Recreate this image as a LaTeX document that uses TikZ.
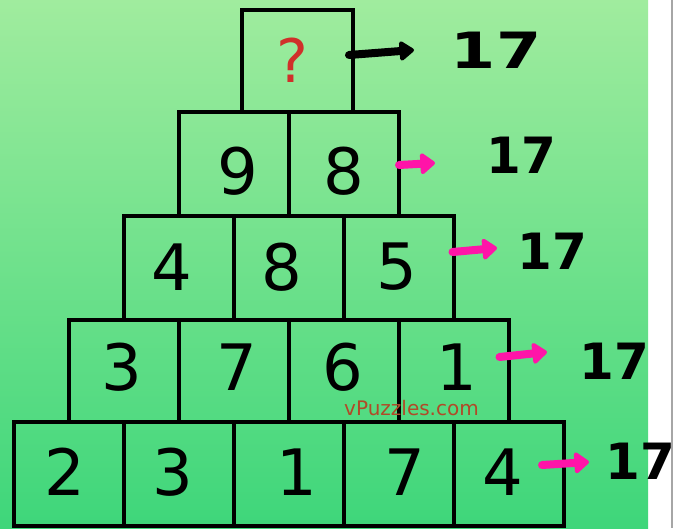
\documentclass[tikz,border=0pt]{standalone}
\usepackage{fontspec}
\setmainfont{DejaVu Sans}
\usetikzlibrary{arrows.meta,calc}
\definecolor{bgtop}{HTML}{A0EC9E}
\definecolor{bgbot}{HTML}{3ED67A}
\definecolor{qred}{HTML}{D0302A}
\definecolor{pinkarrow}{HTML}{FF14A8}
\definecolor{wmark}{HTML}{B04A28}
\tikzset{
  cell/.style={draw=black, line width=4pt, minimum width=110pt, minimum height=103pt, inner sep=0pt},
  digit/.style={inner sep=0pt, font=\fontsize{64}{64}\selectfont},
  hand/.style={inner sep=0pt, font=\fontsize{50}{50}\selectfont\bfseries},
  pinkarr/.style={draw=pinkarrow, line width=8pt, line cap=round, -{Triangle[length=16pt,width=24pt,round]}, pinkarrow},
  blackarr/.style={draw=black, line width=8pt, line cap=round, -{Triangle[length=16pt,width=22pt,round]}, black}
}
\begin{document}
\begin{tikzpicture}[x=1pt,y=-1pt]
\useasboundingbox (0,0) rectangle (676,528);
\fill[white] (0,0) rectangle (676,528);
\shade[top color=bgtop,bottom color=bgbot] (0,0) rectangle (648,528);
\draw[gray!70, line width=1.2pt] (672,0) -- (672,528);

% boxes
\node[cell, minimum width=111pt, minimum height=102pt] (top) at (297.5,61) {};
\node[cell, minimum height=104pt] (r2a) at (234,164) {};
\node[cell, minimum height=104pt] (r2b) at (344,164) {};
\node[cell, minimum height=104pt] (r3a) at (179,268) {};
\node[cell, minimum height=104pt] (r3b) at (289,268) {};
\node[cell, minimum height=104pt] (r3c) at (398.5,268) {};
\node[cell, minimum height=102pt] (r4a) at (124,371) {};
\node[cell, minimum height=102pt] (r4b) at (234,371) {};
\node[cell, minimum height=102pt] (r4c) at (344,371) {};
\node[cell, minimum height=102pt] (r4d) at (453.5,371) {};
\node[cell, minimum height=104pt] (r5a) at (69,474) {};
\node[cell, minimum height=104pt] (r5b) at (179,474) {};
\node[cell, minimum height=104pt] (r5c) at (289,474) {};
\node[cell, minimum height=104pt] (r5d) at (399,474) {};
\node[cell, minimum height=104pt] (r5e) at (509,474) {};

% digits
\node[digit, text=qred, font=\fontsize{60}{60}\selectfont] (dq) at (292,60) {?};
\node[digit] (d2a) at (238,171) {9};
\node[digit] (d2b) at (344,171) {8};
\node[digit] (d3a) at (172,267) {4};
\node[digit] (d3b) at (282,267) {8};
\node[digit] (d3c) at (397,267) {5};
\node[digit] (d4a) at (122,367) {3};
\node[digit] (d4b) at (237,367) {7};
\node[digit] (d4c) at (343,367) {6};
\node[digit] (d4d) at (457,367) {1};
\node[digit] (d5a) at (65,472) {2};
\node[digit] (d5b) at (173,472) {3};
\node[digit] (d5c) at (297,472) {1};
\node[digit] (d5d) at (405,472) {7};
\node[digit] (d5e) at (503,472) {4};

% watermark
\node[text=wmark, font=\fontsize{20}{20}\selectfont, inner sep=0pt, anchor=base] (wm) at (411.5,415) {vPuzzles.com};

% handwritten results
\node[hand, xscale=1.3] (h1) at (496,50.5) {17};
\node[hand] (h2) at (521.5,155) {17};
\node[hand] (h3) at (552.5,251.5) {17};
\node[hand] (h4) at (614.5,361.5) {17};
\node[hand] (h5) at (640,461) {17};

% arrow ends
\coordinate (c1) at (414,50);
\coordinate (c2) at (435,163);
\coordinate (c3) at (497,248);
\coordinate (c4) at (547,352);
\coordinate (c5) at (589,462);

\draw[blackarr] ($(top.east)+(-6,-6)$) -- (c1);
\draw[pinkarr] ($(r2b.east)+(-2,1)$) -- (c2);
\draw[pinkarr] ($(r3c.east)+(-3,-16)$) -- (c3);
\draw[pinkarr] ($(r4d.east)+(-11,-14)$) -- (c4);
\draw[pinkarr] ($(r5e.east)+(-24,-9)$) -- (c5);
\end{tikzpicture}
\end{document}
